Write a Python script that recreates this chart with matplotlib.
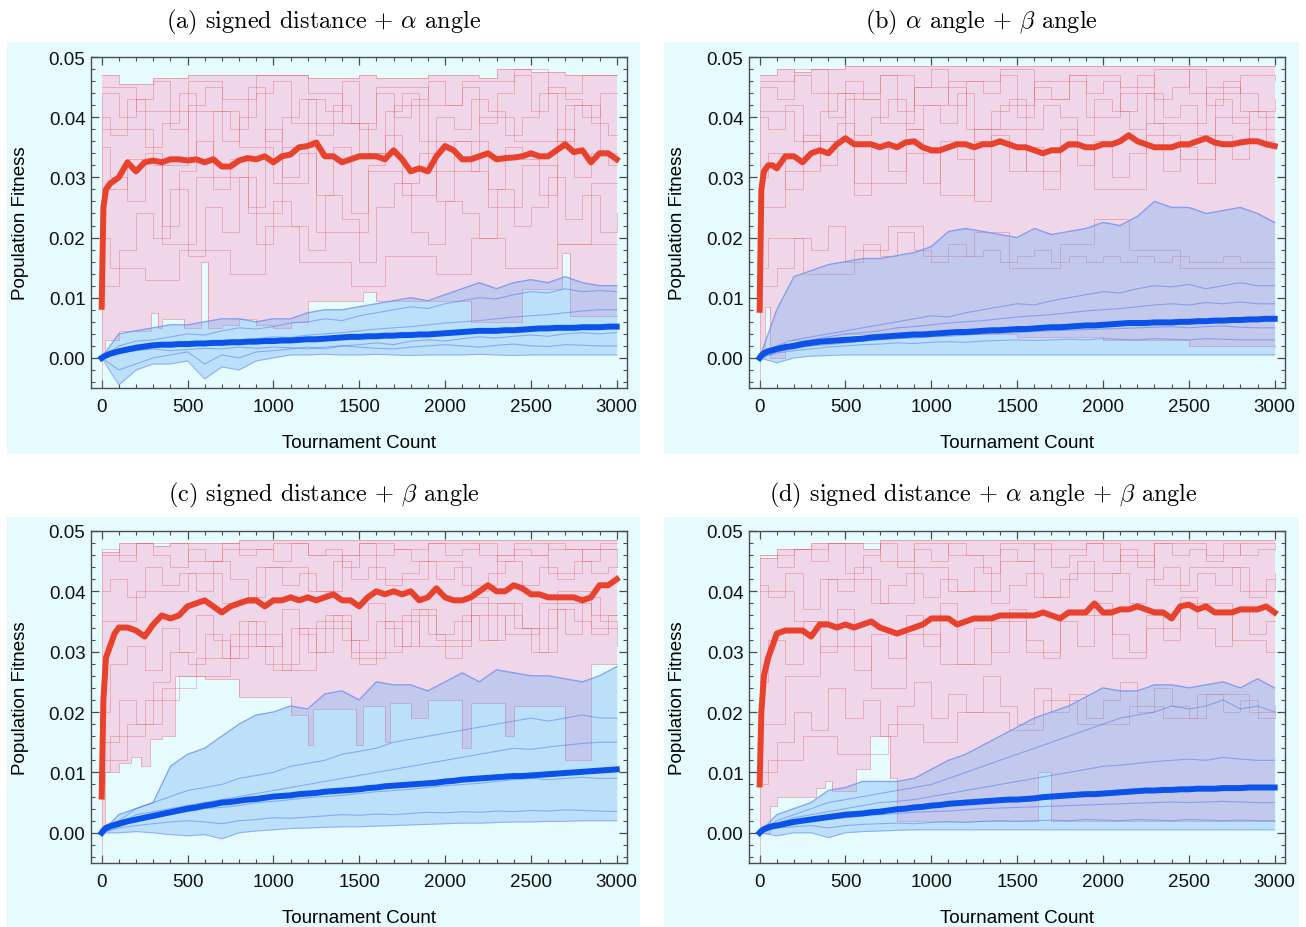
import matplotlib
matplotlib.use('Agg')
import matplotlib.pyplot as plt
from matplotlib.patches import Rectangle
from matplotlib.ticker import MultipleLocator, FormatStrFormatter

plt.rcParams['mathtext.fontset'] = 'cm'
plt.rcParams['font.family'] = ['Liberation Sans', 'DejaVu Sans']

# sample positions (tournament count)
tour = [0, 10, 25, 50, 75, 100] + list(range(150, 3001, 50))
grid100 = list(range(0, 3001, 100))

# ---- (a) signed distance + alpha angle
red_mean_a = [0.0085, 0.025, 0.028, 0.029, 0.0295, 0.030,
              0.0325, 0.031, 0.0325, 0.0328, 0.0325, 0.0330, 0.0330, 0.0328, 0.0330, 0.0325,
              0.0330, 0.0318, 0.0318, 0.0328, 0.0332, 0.0330, 0.0335, 0.0325, 0.0335, 0.0338,
              0.0350, 0.0352, 0.0358, 0.0335, 0.0335, 0.0325, 0.0330, 0.0335, 0.0335, 0.0335,
              0.0330, 0.0345, 0.0330, 0.0310, 0.0315, 0.0310, 0.0335, 0.0352, 0.0345, 0.0330,
              0.0330, 0.0335, 0.0340, 0.0330, 0.0332, 0.0333, 0.0335, 0.0340, 0.0335, 0.0335,
              0.0345, 0.0355, 0.0342, 0.0345, 0.0325, 0.0340, 0.0340, 0.0330]
blue_mean_a = [0.0, 0.0002, 0.0004, 0.0007, 0.0009, 0.0011,
               0.0014, 0.0017, 0.0019, 0.0021, 0.0022, 0.0022, 0.0023, 0.0023, 0.0024, 0.0024,
               0.0025, 0.0025, 0.0026, 0.0026, 0.0027, 0.0027, 0.0028, 0.0028, 0.0029, 0.0029,
               0.0030, 0.0031, 0.0031, 0.0032, 0.0033, 0.0034, 0.0035, 0.0035, 0.0036, 0.0036,
               0.0037, 0.0037, 0.0038, 0.0038, 0.0039, 0.0039, 0.0040, 0.0041, 0.0042, 0.0043,
               0.0044, 0.0045, 0.0045, 0.0045, 0.0046, 0.0046, 0.0047, 0.0048, 0.0049, 0.0049,
               0.0050, 0.0050, 0.0050, 0.0051, 0.0051, 0.0051, 0.0052, 0.0052]
red_hi_a = [0.047, 0.0455, 0.0455, 0.0465, 0.0465, 0.047, 0.047, 0.047, 0.047, 0.047,
            0.047, 0.047, 0.0465, 0.0465, 0.0465, 0.047, 0.0465, 0.0465, 0.0465, 0.047,
            0.047, 0.047, 0.0465, 0.048, 0.048, 0.0475, 0.0475, 0.047, 0.047, 0.047, 0.047]
red_lo_x_a = [0, 20, 100, 290, 330, 350, 480, 580, 620, 700, 800, 900, 1000, 1100, 1200,
              1520, 1600, 2150, 2450, 2650, 2680, 2730, 3000]
red_lo_a = [0.0, 0.003, 0.0045, 0.0075, 0.005, 0.0065, 0.005, 0.016, 0.005, 0.0055, 0.0065,
            0.0055, 0.005, 0.006, 0.0095, 0.011, 0.0095, 0.006, 0.0115, 0.0115, 0.0175, 0.007, 0.007]
blue_hi_a = [0.0, 0.004, 0.0045, 0.005, 0.0055, 0.0055, 0.006, 0.0065, 0.0065, 0.006,
             0.0065, 0.0065, 0.0075, 0.008, 0.008, 0.0085, 0.009, 0.0095, 0.010, 0.0095,
             0.0105, 0.0115, 0.0125, 0.0115, 0.0125, 0.013, 0.0125, 0.0135, 0.0125, 0.012, 0.012]
blue_lo_a = [0.0, -0.0045, -0.002, -0.001, -0.001, -0.0005, -0.0035, -0.0015, -0.002, -0.0005,
             0.0, 0.0005, 0.0005, 0.0006, 0.0005, 0.0005, 0.0006, 0.0005, 0.0004, 0.0005,
             0.0005, 0.0005, 0.0006, 0.0005, 0.0004, 0.0005, 0.0005, 0.0005, 0.0005, 0.0005, 0.0005]
red_runs_a = [
    [-0.005, 0.044, 0.040, 0.043, 0.046, 0.038, 0.042, 0.045, 0.036, 0.040, 0.044, 0.046, 0.039, 0.043, 0.041, 0.046,
     0.038, 0.044, 0.040, 0.043, 0.046, 0.042, 0.045, 0.039, 0.044, 0.047, 0.041, 0.045, 0.043, 0.040, 0.044],
    [0.035, 0.030, 0.026, 0.034, 0.022, 0.031, 0.036, 0.028, 0.033, 0.025, 0.038, 0.030, 0.034, 0.027, 0.035, 0.024,
     0.032, 0.037, 0.029, 0.034, 0.026, 0.036, 0.031, 0.028, 0.035, 0.033, 0.027, 0.038, 0.030, 0.034, 0.032],
    [0.012, 0.018, 0.024, 0.020, 0.028, 0.017, 0.025, 0.021, 0.030, 0.019, 0.026, 0.022, 0.018, 0.027, 0.023, 0.016,
     0.025, 0.029, 0.021, 0.019, 0.026, 0.024, 0.020, 0.028, 0.022, 0.025, 0.030, 0.023, 0.027, 0.021, 0.024],
    [0.040, 0.037, 0.043, 0.035, 0.039, 0.044, 0.033, 0.041, 0.038, 0.045, 0.036, 0.040, 0.043, 0.037, 0.042, 0.039,
     0.034, 0.041, 0.044, 0.036, 0.040, 0.038, 0.043, 0.041, 0.037, 0.040, 0.044, 0.036, 0.042, 0.039, 0.037],
    [0.045, 0.045, 0.041, 0.041, 0.041, 0.046, 0.046, 0.043, 0.043, 0.047, 0.047, 0.047, 0.044, 0.044, 0.039, 0.039,
     0.045, 0.045, 0.045, 0.042, 0.042, 0.046, 0.046, 0.046, 0.048, 0.048, 0.044, 0.044, 0.047, 0.047, 0.047],
    [0.028, 0.028, 0.033, 0.033, 0.019, 0.019, 0.030, 0.030, 0.030, 0.024, 0.024, 0.035, 0.035, 0.021, 0.021, 0.021,
     0.031, 0.031, 0.027, 0.027, 0.036, 0.036, 0.036, 0.025, 0.025, 0.032, 0.032, 0.019, 0.019, 0.029, 0.029],
    [0.038, 0.038, 0.038, 0.032, 0.032, 0.041, 0.041, 0.041, 0.035, 0.035, 0.029, 0.029, 0.039, 0.039, 0.039, 0.034,
     0.034, 0.042, 0.042, 0.031, 0.031, 0.031, 0.040, 0.040, 0.036, 0.036, 0.036, 0.042, 0.042, 0.034, 0.034],
    [0.020, 0.015, 0.015, 0.013, 0.013, 0.018, 0.018, 0.018, 0.014, 0.014, 0.022, 0.022, 0.016, 0.016, 0.016, 0.012,
     0.012, 0.017, 0.017, 0.017, 0.014, 0.014, 0.020, 0.020, 0.015, 0.015, 0.015, 0.019, 0.019, 0.019, 0.019],
]
blue_runs_a = [
    [0.0, 0.002, 0.0028, 0.003, 0.0035, 0.004, 0.0038, 0.0045, 0.005, 0.0048, 0.0052, 0.0058, 0.006, 0.0065, 0.0062,
     0.007, 0.0075, 0.008, 0.0085, 0.0082, 0.009, 0.0095, 0.010, 0.0098, 0.0105, 0.011, 0.0108, 0.0115, 0.011, 0.0112, 0.011],
    [0.0, 0.001, 0.0015, 0.002, 0.0018, 0.0022, 0.0025, 0.0028, 0.003, 0.0032, 0.0035, 0.0034, 0.0038, 0.004, 0.0042,
     0.0045, 0.0048, 0.005, 0.0052, 0.0055, 0.0058, 0.006, 0.0062, 0.0065, 0.0068, 0.007, 0.0072, 0.0075, 0.0078, 0.008, 0.008],
    [0.0, -0.002, -0.001, 0.0, 0.0005, 0.001, -0.001, 0.0005, 0.0, 0.001, 0.0012, 0.0015, 0.0018, 0.0015, 0.002,
     0.0022, 0.0025, 0.0022, 0.0028, 0.003, 0.0028, 0.0032, 0.0035, 0.0033, 0.0036, 0.0038, 0.0036, 0.004, 0.0042, 0.004, 0.0042],
    [0.0, 0.0008, 0.0012, 0.0015, 0.0012, 0.0014, 0.0016, 0.0015, 0.0018, 0.0016, 0.0018, 0.0017, 0.0015, 0.0018, 0.002,
     0.0018, 0.0016, 0.0015, 0.0018, 0.002, 0.0022, 0.002, 0.0018, 0.0021, 0.0023, 0.002, 0.0019, 0.0022, 0.0021, 0.002, 0.002],
]

# ---- (b) alpha angle + beta angle
red_mean_b = [0.008, 0.028, 0.031, 0.032, 0.032, 0.0315,
              0.0335, 0.0335, 0.0325, 0.034, 0.0345, 0.034, 0.0355, 0.0365, 0.0355, 0.0355,
              0.0355, 0.0350, 0.0355, 0.0350, 0.0358, 0.0360, 0.0350, 0.0345, 0.0345, 0.0350,
              0.0355, 0.0355, 0.0350, 0.0355, 0.0355, 0.0360, 0.0355, 0.0350, 0.0350, 0.0345,
              0.0340, 0.0345, 0.0345, 0.0355, 0.0355, 0.0350, 0.0350, 0.0355, 0.0355, 0.0360,
              0.0370, 0.0360, 0.0355, 0.0350, 0.0350, 0.0350, 0.0355, 0.0355, 0.0360, 0.0365,
              0.0358, 0.0355, 0.0355, 0.0358, 0.0360, 0.0360, 0.0355, 0.0352]
blue_mean_b = [0.0, 0.0004, 0.0008, 0.0011, 0.0013, 0.0015,
               0.0018, 0.0020, 0.0023, 0.0025, 0.0027, 0.0028, 0.0029, 0.0030, 0.0031, 0.0032,
               0.0034, 0.0035, 0.0036, 0.0037, 0.0038, 0.0039, 0.0039, 0.0040, 0.0041, 0.0042,
               0.0043, 0.0043, 0.0044, 0.0045, 0.0046, 0.0046, 0.0047, 0.0048, 0.0048, 0.0049,
               0.0050, 0.0051, 0.0051, 0.0052, 0.0053, 0.0054, 0.0054, 0.0055, 0.0056, 0.0057,
               0.0058, 0.0058, 0.0058, 0.0059, 0.0059, 0.0059, 0.0060, 0.0060, 0.0061, 0.0061,
               0.0062, 0.0062, 0.0063, 0.0063, 0.0064, 0.0064, 0.0065, 0.0065]
red_hi_b = [0.047, 0.048, 0.0475, 0.048, 0.048, 0.0485, 0.0485, 0.0485, 0.0485, 0.0485,
            0.0485, 0.0485, 0.0485, 0.0485, 0.0485, 0.0485, 0.0485, 0.0485, 0.0485, 0.0485,
            0.0485, 0.0485, 0.0485, 0.0485, 0.0485, 0.0485, 0.0485, 0.0485, 0.0485, 0.0485, 0.0485]
red_lo_x_b = [0, 30, 60, 150, 500, 1000, 1500, 2000, 2500, 3000]
red_lo_b = [0.0, 0.0085, 0.0, 0.003, 0.004, 0.004, 0.0035, 0.003, 0.002, 0.0018]
blue_hi_b = [0.0, 0.008, 0.0135, 0.0145, 0.0155, 0.016, 0.0165, 0.0165, 0.017, 0.0175,
             0.0185, 0.021, 0.0215, 0.021, 0.0205, 0.020, 0.0215, 0.0205, 0.021, 0.0215,
             0.0225, 0.022, 0.0235, 0.026, 0.025, 0.025, 0.024, 0.0245, 0.025, 0.024, 0.0225]
blue_lo_b = [0.0, -0.0008, 0.0, 0.0003, 0.0004, 0.0005, 0.0005, 0.0005, 0.0005, 0.0005,
             0.0005, 0.0005, 0.0005, 0.0005, 0.0005, 0.0005, 0.0005, 0.0005, 0.0005, 0.0005,
             0.0005, 0.0005, 0.0005, 0.0005, 0.0005, 0.0005, 0.0005, 0.0005, 0.0005, 0.0005, 0.0005]
red_runs_b = [
    [-0.005, 0.045, 0.043, 0.047, 0.044, 0.040, 0.046, 0.043, 0.047, 0.041, 0.045, 0.048, 0.042, 0.046, 0.044, 0.047,
     0.040, 0.045, 0.043, 0.047, 0.044, 0.046, 0.041, 0.047, 0.043, 0.045, 0.048, 0.042, 0.046, 0.044, 0.040],
    [0.030, 0.034, 0.028, 0.037, 0.032, 0.039, 0.027, 0.035, 0.031, 0.038, 0.029, 0.036, 0.033, 0.026, 0.037, 0.031,
     0.035, 0.028, 0.038, 0.032, 0.036, 0.030, 0.034, 0.039, 0.031, 0.035, 0.029, 0.037, 0.033, 0.038, 0.035],
    [0.012, 0.015, 0.020, 0.018, 0.022, 0.016, 0.019, 0.017, 0.021, 0.018, 0.016, 0.019, 0.017, 0.018, 0.016, 0.017,
     0.018, 0.016, 0.017, 0.016, 0.017, 0.016, 0.017, 0.016, 0.017, 0.016, 0.016, 0.017, 0.016, 0.016, 0.016],
    [0.040, 0.038, 0.042, 0.036, 0.041, 0.044, 0.037, 0.040, 0.043, 0.038, 0.042, 0.039, 0.044, 0.036, 0.041, 0.043,
     0.038, 0.042, 0.040, 0.037, 0.043, 0.041, 0.038, 0.044, 0.040, 0.042, 0.037, 0.043, 0.039, 0.041, 0.038],
    [0.046, 0.046, 0.048, 0.048, 0.044, 0.044, 0.044, 0.047, 0.047, 0.042, 0.042, 0.046, 0.046, 0.046, 0.048, 0.048,
     0.043, 0.043, 0.047, 0.047, 0.047, 0.045, 0.045, 0.048, 0.048, 0.044, 0.044, 0.044, 0.047, 0.047, 0.046],
    [0.025, 0.025, 0.031, 0.031, 0.036, 0.036, 0.029, 0.029, 0.029, 0.034, 0.034, 0.027, 0.027, 0.038, 0.038, 0.038,
     0.031, 0.031, 0.035, 0.035, 0.028, 0.028, 0.028, 0.037, 0.037, 0.033, 0.033, 0.040, 0.040, 0.036, 0.036],
    [0.041, 0.041, 0.036, 0.036, 0.036, 0.043, 0.043, 0.039, 0.039, 0.045, 0.045, 0.045, 0.038, 0.038, 0.042, 0.042,
     0.046, 0.046, 0.046, 0.040, 0.040, 0.044, 0.044, 0.039, 0.039, 0.039, 0.045, 0.045, 0.041, 0.041, 0.043],
    [0.015, 0.020, 0.020, 0.014, 0.014, 0.014, 0.018, 0.018, 0.022, 0.022, 0.017, 0.017, 0.017, 0.021, 0.021, 0.015,
     0.015, 0.015, 0.019, 0.019, 0.023, 0.023, 0.018, 0.018, 0.018, 0.015, 0.015, 0.015, 0.015, 0.015, 0.015],
]
blue_runs_b = [
    [0.0, 0.002, 0.003, 0.0035, 0.004, 0.0045, 0.005, 0.0055, 0.006, 0.0065, 0.007, 0.0068, 0.0075, 0.008, 0.0085,
     0.009, 0.0088, 0.0095, 0.010, 0.0105, 0.011, 0.0108, 0.0115, 0.012, 0.0118, 0.0122, 0.0115, 0.012, 0.0125, 0.012, 0.012],
    [0.0, 0.0015, 0.0025, 0.003, 0.0035, 0.004, 0.0042, 0.0045, 0.005, 0.0052, 0.0055, 0.0058, 0.006, 0.0062, 0.0065,
     0.0068, 0.007, 0.0072, 0.0075, 0.0078, 0.008, 0.0082, 0.0085, 0.0088, 0.009, 0.0088, 0.0092, 0.009, 0.0093, 0.009, 0.009],
    [0.0, 0.001, 0.0015, 0.002, 0.0022, 0.0025, 0.0028, 0.003, 0.0032, 0.0033, 0.0035, 0.0036, 0.0038, 0.004, 0.0041,
     0.0042, 0.0044, 0.0045, 0.0046, 0.0047, 0.0048, 0.0049, 0.005, 0.0051, 0.0052, 0.005, 0.0052, 0.0053, 0.0051, 0.005, 0.005],
    [0.0, 0.0008, 0.0012, 0.0015, 0.0018, 0.002, 0.0022, 0.0023, 0.0025, 0.0024, 0.0026, 0.0027, 0.0026, 0.0028, 0.0029,
     0.003, 0.0029, 0.003, 0.0031, 0.003, 0.0032, 0.0031, 0.003, 0.0032, 0.0031, 0.003, 0.0032, 0.0031, 0.003, 0.003, 0.003],
]

# ---- (c) signed distance + beta angle
red_mean_c = [0.006, 0.022, 0.029, 0.031, 0.033, 0.034,
              0.034, 0.0335, 0.0325, 0.0345, 0.036, 0.0355, 0.036, 0.0375, 0.038, 0.0385,
              0.0375, 0.0365, 0.0375, 0.038, 0.0385, 0.0385, 0.0375, 0.0385, 0.0385, 0.039,
              0.0385, 0.039, 0.0385, 0.039, 0.0395, 0.0385, 0.0385, 0.0375, 0.039, 0.040,
              0.0395, 0.040, 0.0395, 0.040, 0.0385, 0.039, 0.0405, 0.039, 0.0385, 0.0385,
              0.039, 0.040, 0.041, 0.040, 0.040, 0.041, 0.0405, 0.0395, 0.0395, 0.039,
              0.039, 0.039, 0.039, 0.0385, 0.039, 0.041, 0.041, 0.042]
blue_mean_c = [0.0, 0.0004, 0.0008, 0.0011, 0.0013, 0.0015,
               0.0019, 0.0022, 0.0025, 0.0028, 0.0031, 0.0034, 0.0037, 0.0040, 0.0042, 0.0045,
               0.0047, 0.0050, 0.0051, 0.0053, 0.0055, 0.0056, 0.0058, 0.0060, 0.0061, 0.0062,
               0.0064, 0.0065, 0.0066, 0.0068, 0.0069, 0.0070, 0.0071, 0.0072, 0.0074, 0.0075,
               0.0077, 0.0078, 0.0079, 0.0080, 0.0081, 0.0082, 0.0083, 0.0085, 0.0086, 0.0088,
               0.0089, 0.0090, 0.0091, 0.0092, 0.0093, 0.0094, 0.0094, 0.0095, 0.0096, 0.0097,
               0.0098, 0.0099, 0.0100, 0.0101, 0.0102, 0.0103, 0.0104, 0.0105]
red_hi_c = [0.0465, 0.048, 0.048, 0.0475, 0.048, 0.048, 0.048, 0.048, 0.0485, 0.0485,
            0.0485, 0.0485, 0.0485, 0.0485, 0.0485, 0.0485, 0.0485, 0.0485, 0.0485, 0.0485,
            0.0485, 0.0485, 0.0485, 0.0485, 0.0485, 0.0485, 0.0485, 0.0485, 0.0485, 0.0485, 0.0485]
red_lo_x_c = [0, 20, 100, 170, 230, 280, 350, 430, 600, 800, 1100, 1200, 1230, 1480, 1520, 1650,
              1680, 1800, 1900, 2100, 2150, 2350, 2400, 2700, 2850, 3000]
red_lo_c = [0.0, 0.010, 0.0115, 0.0125, 0.011, 0.0155, 0.016, 0.026, 0.0255, 0.0225, 0.0195, 0.0145,
            0.0205, 0.0145, 0.021, 0.015, 0.0215, 0.019, 0.022, 0.014, 0.0215, 0.016, 0.021, 0.012, 0.028, 0.028]
blue_hi_c = [0.0, 0.003, 0.004, 0.005, 0.011, 0.013, 0.014, 0.016, 0.018, 0.0195,
             0.020, 0.021, 0.0205, 0.023, 0.0235, 0.022, 0.025, 0.0245, 0.0245, 0.0235,
             0.025, 0.0265, 0.025, 0.027, 0.0265, 0.026, 0.026, 0.0255, 0.025, 0.026, 0.0275]
blue_lo_c = [0.0, 0.0, 0.0002, 0.0, -0.0003, -0.0005, -0.0003, -0.001, 0.0, 0.0003,
             0.0005, 0.0007, 0.0008, 0.0009, 0.001, 0.001, 0.0011, 0.0012, 0.0013, 0.0014,
             0.0015, 0.0016, 0.0016, 0.0017, 0.0018, 0.0018, 0.0019, 0.0019, 0.002, 0.002, 0.002]
red_runs_c = [
    [-0.005, 0.047, 0.045, 0.048, 0.046, 0.044, 0.047, 0.045, 0.048, 0.046, 0.047, 0.045, 0.048, 0.046, 0.047, 0.044,
     0.048, 0.046, 0.047, 0.045, 0.048, 0.046, 0.047, 0.048, 0.045, 0.047, 0.046, 0.048, 0.047, 0.045, 0.047],
    [0.020, 0.028, 0.031, 0.027, 0.034, 0.030, 0.036, 0.032, 0.029, 0.035, 0.031, 0.037, 0.033, 0.030, 0.036, 0.032,
     0.038, 0.034, 0.031, 0.037, 0.033, 0.035, 0.039, 0.032, 0.036, 0.034, 0.030, 0.037, 0.035, 0.033, 0.036],
    [0.015, 0.022, 0.018, 0.025, 0.030, 0.028, 0.033, 0.029, 0.035, 0.031, 0.027, 0.034, 0.030, 0.036, 0.032, 0.028,
     0.035, 0.031, 0.037, 0.033, 0.029, 0.036, 0.032, 0.038, 0.034, 0.030, 0.037, 0.033, 0.039, 0.035, 0.031],
    [0.040, 0.042, 0.039, 0.044, 0.041, 0.043, 0.040, 0.045, 0.042, 0.039, 0.044, 0.041, 0.043, 0.040, 0.045, 0.042,
     0.044, 0.041, 0.043, 0.045, 0.042, 0.044, 0.040, 0.043, 0.045, 0.041, 0.044, 0.042, 0.045, 0.043, 0.044],
    [0.046, 0.046, 0.048, 0.048, 0.048, 0.045, 0.045, 0.047, 0.047, 0.047, 0.048, 0.048, 0.046, 0.046, 0.046, 0.048,
     0.048, 0.047, 0.047, 0.048, 0.048, 0.048, 0.046, 0.046, 0.048, 0.048, 0.047, 0.047, 0.047, 0.048, 0.048],
    [0.012, 0.012, 0.018, 0.018, 0.024, 0.024, 0.029, 0.029, 0.033, 0.033, 0.033, 0.027, 0.027, 0.035, 0.035, 0.030,
     0.030, 0.030, 0.036, 0.036, 0.032, 0.032, 0.038, 0.038, 0.038, 0.034, 0.034, 0.040, 0.040, 0.036, 0.036],
    [0.035, 0.035, 0.040, 0.040, 0.040, 0.043, 0.043, 0.038, 0.038, 0.044, 0.044, 0.044, 0.040, 0.040, 0.046, 0.046,
     0.042, 0.042, 0.042, 0.045, 0.045, 0.041, 0.041, 0.046, 0.046, 0.046, 0.043, 0.043, 0.047, 0.047, 0.044],
    [0.010, 0.016, 0.016, 0.022, 0.022, 0.026, 0.026, 0.026, 0.031, 0.031, 0.028, 0.028, 0.034, 0.034, 0.034, 0.029,
     0.029, 0.035, 0.035, 0.031, 0.031, 0.031, 0.036, 0.036, 0.033, 0.033, 0.038, 0.038, 0.038, 0.034, 0.034],
]
blue_runs_c = [
    [0.0, 0.002, 0.004, 0.005, 0.006, 0.007, 0.0075, 0.008, 0.009, 0.0095, 0.010, 0.011, 0.0115, 0.012, 0.013,
     0.0135, 0.014, 0.015, 0.0155, 0.016, 0.0165, 0.017, 0.0175, 0.018, 0.0185, 0.019, 0.0185, 0.019, 0.0195, 0.019, 0.019],
    [0.0, 0.0015, 0.003, 0.0035, 0.004, 0.0045, 0.005, 0.0055, 0.006, 0.0065, 0.007, 0.0075, 0.008, 0.0085, 0.009,
     0.0095, 0.010, 0.0105, 0.011, 0.0115, 0.012, 0.0125, 0.013, 0.0135, 0.014, 0.0138, 0.0142, 0.0145, 0.0148, 0.015, 0.015],
    [0.0, 0.001, 0.002, 0.0025, 0.003, 0.0035, 0.004, 0.0042, 0.0045, 0.005, 0.0052, 0.0055, 0.0058, 0.006, 0.0062,
     0.0065, 0.0068, 0.007, 0.0072, 0.0075, 0.0078, 0.008, 0.0082, 0.0085, 0.0088, 0.009, 0.0088, 0.009, 0.0092, 0.009, 0.009],
    [0.0, 0.0008, 0.0012, 0.0015, 0.0018, 0.002, 0.0018, 0.0015, 0.002, 0.0022, 0.0025, 0.0024, 0.0026, 0.0028, 0.003,
     0.0029, 0.0031, 0.003, 0.0032, 0.0034, 0.0033, 0.0035, 0.0034, 0.0036, 0.0035, 0.0037, 0.0036, 0.0038, 0.0037, 0.0036, 0.0035],
]

# ---- (d) signed distance + alpha angle + beta angle
red_mean_d = [0.008, 0.020, 0.026, 0.029, 0.031, 0.033,
              0.0335, 0.0335, 0.0335, 0.0325, 0.0345, 0.0345, 0.034, 0.0345, 0.034, 0.0345,
              0.035, 0.034, 0.0335, 0.033, 0.0335, 0.034, 0.0345, 0.0355, 0.0355, 0.0355,
              0.0345, 0.035, 0.0355, 0.0355, 0.0355, 0.036, 0.036, 0.036, 0.036, 0.036,
              0.0365, 0.036, 0.0355, 0.0365, 0.0365, 0.0365, 0.038, 0.0365, 0.0365, 0.037,
              0.037, 0.0375, 0.037, 0.0365, 0.0365, 0.0355, 0.0375, 0.0378, 0.037, 0.0375,
              0.0365, 0.0365, 0.0365, 0.037, 0.037, 0.037, 0.0375, 0.0365]
blue_mean_d = [0.0, 0.0003, 0.0006, 0.0009, 0.0011, 0.0012,
               0.0015, 0.0018, 0.0020, 0.0022, 0.0024, 0.0026, 0.0028, 0.0030, 0.0031, 0.0032,
               0.0034, 0.0035, 0.0037, 0.0039, 0.0040, 0.0042, 0.0043, 0.0045, 0.0046, 0.0048,
               0.0049, 0.0050, 0.0051, 0.0052, 0.0053, 0.0054, 0.0055, 0.0055, 0.0056, 0.0057,
               0.0059, 0.0060, 0.0061, 0.0062, 0.0063, 0.0064, 0.0064, 0.0065, 0.0066, 0.0067,
               0.0068, 0.0069, 0.0070, 0.0070, 0.0071, 0.0071, 0.0072, 0.0072, 0.0073, 0.0073,
               0.0073, 0.0074, 0.0074, 0.0074, 0.0075, 0.0075, 0.0075, 0.0075]
red_hi_d = [0.0455, 0.047, 0.047, 0.048, 0.048, 0.048, 0.047, 0.0485, 0.0485, 0.0485,
            0.0485, 0.0485, 0.0485, 0.0485, 0.0485, 0.0485, 0.0485, 0.0485, 0.0485, 0.0485,
            0.0485, 0.0485, 0.0485, 0.0485, 0.0485, 0.0485, 0.0485, 0.0485, 0.0485, 0.0485, 0.0485]
red_lo_x_d = [0, 60, 100, 330, 380, 420, 560, 640, 760, 800, 1620, 1700, 3000]
red_lo_d = [0.0, 0.0045, 0.006, 0.0075, 0.0085, 0.007, 0.0105, 0.016, 0.009, 0.002, 0.010, 0.002, 0.002]
blue_hi_d = [0.0, 0.003, 0.004, 0.005, 0.007, 0.0075, 0.0085, 0.0085, 0.0085, 0.009,
             0.0105, 0.012, 0.013, 0.0145, 0.016, 0.0175, 0.019, 0.020, 0.021, 0.0225,
             0.024, 0.0235, 0.0235, 0.0245, 0.0245, 0.024, 0.0245, 0.025, 0.024, 0.0255, 0.024]
blue_lo_d = [0.0, -0.0005, 0.0, 0.0, -0.0008, 0.0, 0.0002, 0.0003, 0.0004, 0.0005,
             0.0005, 0.0005, 0.0005, 0.0005, 0.0005, 0.0005, 0.0005, 0.0005, 0.0005, 0.0005,
             0.0005, 0.0005, 0.0005, 0.0005, 0.0005, 0.0005, 0.0005, 0.0005, 0.0005, 0.0005, 0.0005]
red_runs_d = [
    [-0.005, 0.046, 0.044, 0.047, 0.045, 0.048, 0.043, 0.046, 0.048, 0.044, 0.047, 0.045, 0.048, 0.046, 0.043, 0.047,
     0.045, 0.048, 0.044, 0.046, 0.048, 0.045, 0.047, 0.044, 0.048, 0.046, 0.047, 0.045, 0.048, 0.046, 0.047],
    [0.025, 0.032, 0.028, 0.035, 0.030, 0.037, 0.027, 0.033, 0.029, 0.036, 0.031, 0.038, 0.028, 0.034, 0.030, 0.037,
     0.032, 0.029, 0.035, 0.031, 0.038, 0.033, 0.030, 0.036, 0.032, 0.039, 0.034, 0.031, 0.037, 0.033, 0.035],
    [0.010, 0.015, 0.020, 0.017, 0.024, 0.019, 0.022, 0.016, 0.021, 0.025, 0.019, 0.023, 0.020, 0.026, 0.021, 0.018,
     0.024, 0.020, 0.023, 0.019, 0.022, 0.025, 0.020, 0.024, 0.021, 0.019, 0.023, 0.020, 0.022, 0.019, 0.021],
    [0.041, 0.039, 0.043, 0.037, 0.042, 0.040, 0.044, 0.038, 0.041, 0.043, 0.039, 0.042, 0.040, 0.044, 0.038, 0.041,
     0.043, 0.039, 0.042, 0.045, 0.040, 0.043, 0.038, 0.042, 0.044, 0.040, 0.043, 0.041, 0.044, 0.039, 0.042],
    [0.046, 0.046, 0.047, 0.047, 0.048, 0.048, 0.048, 0.045, 0.045, 0.048, 0.048, 0.046, 0.046, 0.046, 0.048, 0.048,
     0.047, 0.047, 0.047, 0.048, 0.048, 0.045, 0.045, 0.048, 0.048, 0.048, 0.046, 0.046, 0.048, 0.048, 0.047],
    [0.018, 0.018, 0.026, 0.026, 0.031, 0.031, 0.031, 0.024, 0.024, 0.033, 0.033, 0.028, 0.028, 0.028, 0.035, 0.035,
     0.030, 0.030, 0.036, 0.036, 0.036, 0.029, 0.029, 0.034, 0.034, 0.038, 0.038, 0.038, 0.032, 0.032, 0.030],
    [0.040, 0.040, 0.035, 0.035, 0.042, 0.042, 0.042, 0.038, 0.038, 0.044, 0.044, 0.040, 0.040, 0.040, 0.045, 0.045,
     0.039, 0.039, 0.043, 0.043, 0.043, 0.046, 0.046, 0.041, 0.041, 0.044, 0.044, 0.044, 0.040, 0.040, 0.043],
    [0.008, 0.012, 0.012, 0.016, 0.016, 0.013, 0.013, 0.013, 0.018, 0.018, 0.015, 0.015, 0.020, 0.020, 0.020, 0.017,
     0.017, 0.022, 0.022, 0.018, 0.018, 0.018, 0.021, 0.021, 0.019, 0.019, 0.023, 0.023, 0.023, 0.020, 0.020],
]
blue_runs_d = [
    [0.0, 0.002, 0.003, 0.004, 0.005, 0.0055, 0.006, 0.0065, 0.007, 0.0075, 0.008, 0.009, 0.010, 0.011, 0.012,
     0.013, 0.014, 0.015, 0.016, 0.017, 0.018, 0.019, 0.0195, 0.020, 0.021, 0.0205, 0.021, 0.022, 0.0205, 0.021, 0.020],
    [0.0, 0.0015, 0.0025, 0.003, 0.0035, 0.004, 0.0045, 0.005, 0.0052, 0.0055, 0.006, 0.0065, 0.007, 0.0075, 0.008,
     0.0085, 0.009, 0.0095, 0.010, 0.0105, 0.011, 0.0112, 0.0115, 0.0118, 0.012, 0.0122, 0.012, 0.0125, 0.0122, 0.012, 0.012],
    [0.0, 0.001, 0.0015, 0.002, 0.0022, 0.0025, 0.0028, 0.003, 0.0032, 0.0034, 0.0035, 0.0036, 0.0038, 0.004, 0.0041,
     0.0042, 0.0043, 0.0044, 0.0045, 0.0046, 0.0047, 0.0048, 0.0049, 0.005, 0.0051, 0.005, 0.0051, 0.0052, 0.0051, 0.005, 0.005],
    [0.0, 0.0008, 0.001, 0.0012, 0.0008, 0.0012, 0.0014, 0.0015, 0.0016, 0.0015, 0.0017, 0.0018, 0.0017, 0.0019, 0.002,
     0.0019, 0.002, 0.0021, 0.002, 0.0022, 0.0021, 0.002, 0.0022, 0.0021, 0.002, 0.0022, 0.0021, 0.002, 0.0021, 0.002, 0.002],
]

titles = [r'(a) signed distance $+$ $\alpha$ angle',
          r'(b) $\alpha$ angle $+$ $\beta$ angle',
          r'(c) signed distance $+$ $\beta$ angle',
          r'(d) signed distance $+$ $\alpha$ angle $+$ $\beta$ angle']

BG = '#e6fbfd'
PINK = '#efd6e8'
RED_THIN = '#e25050'
RED_MAIN = '#e8412c'
BLUE_FILL = '#71aef7'
BLUE_THIN = '#4a78ee'
BLUE_EDGE = '#6f8ff0'
BLUE_MAIN = '#0a52e8'
SPINE = '#4d4d4d'


def step_xy(x, y):
    xs, ys = [], []
    for i in range(len(x) - 1):
        xs += [x[i], x[i + 1]]
        ys += [y[i], y[i]]
    xs.append(x[-1])
    ys.append(y[-1])
    return xs, ys


def draw_panel(ax, p):
    ax.set_facecolor(BG)
    # red band (envelope of runs)
    ux, uy = step_xy(grid100, p['red_hi'])
    lx, ly = step_xy(p['red_lo_x'], p['red_lo'])
    ax.fill(ux + lx[::-1], uy + ly[::-1], color=PINK, lw=0, zorder=1)
    ax.plot(ux, uy, color=RED_THIN, lw=0.7, alpha=0.4, zorder=2)
    ax.plot(lx, ly, color=RED_THIN, lw=0.7, alpha=0.4, zorder=2)
    for i, run in enumerate(p['red_runs']):
        style = 'steps-pre' if i == 0 else ('steps-mid' if i % 2 else 'steps-post')
        ax.plot(grid100, run, drawstyle=style, color=RED_THIN, lw=0.6, alpha=0.38, zorder=2)
    # blue band
    ax.fill_between(grid100, p['blue_lo'], p['blue_hi'], color=BLUE_FILL, alpha=0.35, lw=0, zorder=3)
    ax.plot(grid100, p['blue_hi'], color=BLUE_EDGE, lw=1.0, alpha=0.8, zorder=4)
    ax.plot(grid100, p['blue_lo'], color=BLUE_EDGE, lw=0.8, alpha=0.6, zorder=4)
    for run in p['blue_runs']:
        ax.plot(grid100, run, color=BLUE_THIN, lw=0.8, alpha=0.5, zorder=4)
    # means
    ax.plot(tour, p['red_mean'], color=RED_MAIN, lw=4.3, solid_joinstyle='round', zorder=6)
    ax.plot(tour, p['blue_mean'], color=BLUE_MAIN, lw=4.3, solid_joinstyle='round', zorder=7)

    ax.set_xlim(-62, 3060)
    ax.set_ylim(-0.005, 0.05)
    ax.xaxis.set_major_locator(MultipleLocator(500))
    ax.xaxis.set_minor_locator(MultipleLocator(100))
    ax.yaxis.set_major_locator(MultipleLocator(0.01))
    ax.yaxis.set_minor_locator(MultipleLocator(0.002))
    ax.yaxis.set_major_formatter(FormatStrFormatter('%.2f'))
    ax.tick_params(which='both', direction='in', top=True, right=True, color=SPINE,
                   labelsize=13.5, labelcolor='#111111')
    ax.tick_params(which='major', length=6, width=0.9)
    ax.tick_params(which='minor', length=3.2, width=0.8)
    ax.tick_params(axis='x', pad=7)
    ax.tick_params(axis='y', pad=4)
    for s in ax.spines.values():
        s.set_color(SPINE)
        s.set_linewidth(1.0)
    ax.set_xlabel('Tournament Count', fontsize=13.5, va='center')
    ax.set_ylabel('Population Fitness', fontsize=13.5, va='center')
    ax.xaxis.set_label_coords(0.5, -0.165)
    ax.yaxis.set_label_coords(-0.1325, 0.5)


panels = [
    dict(red_mean=red_mean_a, blue_mean=blue_mean_a, red_hi=red_hi_a, red_lo_x=red_lo_x_a, red_lo=red_lo_a,
         blue_hi=blue_hi_a, blue_lo=blue_lo_a, red_runs=red_runs_a, blue_runs=blue_runs_a),
    dict(red_mean=red_mean_b, blue_mean=blue_mean_b, red_hi=red_hi_b, red_lo_x=red_lo_x_b, red_lo=red_lo_b,
         blue_hi=blue_hi_b, blue_lo=blue_lo_b, red_runs=red_runs_b, blue_runs=blue_runs_b),
    dict(red_mean=red_mean_c, blue_mean=blue_mean_c, red_hi=red_hi_c, red_lo_x=red_lo_x_c, red_lo=red_lo_c,
         blue_hi=blue_hi_c, blue_lo=blue_lo_c, red_runs=red_runs_c, blue_runs=blue_runs_c),
    dict(red_mean=red_mean_d, blue_mean=blue_mean_d, red_hi=red_hi_d, red_lo_x=red_lo_x_d, red_lo=red_lo_d,
         blue_hi=blue_hi_d, blue_lo=blue_lo_d, red_runs=red_runs_d, blue_runs=blue_runs_d),
]

fig = plt.figure(figsize=(13.06, 9.28), dpi=100)
fig.patch.set_facecolor('white')

# cyan frame behind each panel
bg_boxes = [(0.0054, 0.5097, 0.4847, 0.4440), (0.5084, 0.5097, 0.4862, 0.4440),
            (0.0054, 0.0, 0.4847, 0.4418), (0.5084, 0.0, 0.4862, 0.4418)]
for bx in bg_boxes:
    fig.patches.append(Rectangle(bx[:2], bx[2], bx[3], transform=fig.transFigure,
                                 facecolor=BG, edgecolor='none', zorder=-10))

axes_pos = [(0.0697, 0.5808, 0.4104, 0.3567), (0.5735, 0.5808, 0.4104, 0.3567),
            (0.0697, 0.0690, 0.4104, 0.3578), (0.5735, 0.0690, 0.4104, 0.3578)]
title_pos = [(0.2477, 0.9763), (0.7515, 0.9763), (0.2477, 0.4656), (0.7527, 0.4656)]

for k in range(4):
    ax = fig.add_axes(axes_pos[k])
    draw_panel(ax, panels[k])
    fig.text(title_pos[k][0], title_pos[k][1], titles[k], fontfamily='cmr10',
             fontsize=17.5, ha='center', va='center')

fig.savefig('out.png', dpi=100, facecolor='white')
